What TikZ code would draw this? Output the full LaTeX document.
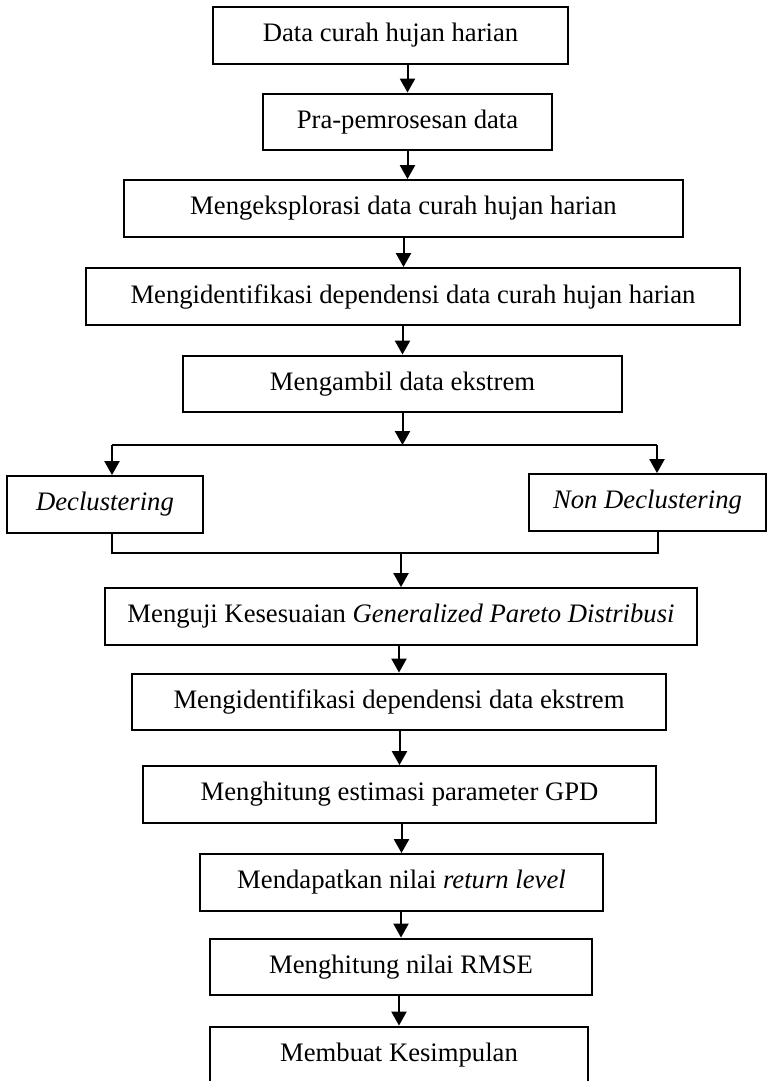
\documentclass[tikz,border=0pt]{standalone}
\usepackage{fontspec}
\setmainfont{Liberation Serif}
\usetikzlibrary{arrows.meta}
\begin{document}
\begin{tikzpicture}[x=0.45pt, y=-0.45pt,
  box/.style={draw, line width=0.9pt, minimum width=#1, minimum height=25.6pt, inner sep=0pt, font=\fontsize{12pt}{14pt}\selectfont},
  arr/.style={line width=0.9pt, -{Triangle[length=6.3pt, width=6.8pt]}},
  link/.style={line width=0.9pt}]
\useasboundingbox (0,0) rectangle (769,1081);
\node[box=159.75pt] (data) at (390.5,35.5) {Data curah hujan harian};
\node[box=130.05pt] (pra) at (407.5,122) {Pra-pemrosesan data};
\node[box=251.55pt] (eksplorasi) at (403.5,208.5) {Mengeksplorasi data curah hujan harian};
\node[box=294.3pt] (depharian) at (413,296.5) {Mengidentifikasi dependensi data curah hujan harian};
\node[box=197.55pt] (ekstrem) at (402.5,384) {Mengambil data ekstrem};
\node[box=88.2pt] (declus) at (105,504.5) {\textit{Declustering}};
\node[box=106.65pt] (nondeclus) at (647.5,502.5) {\textit{Non Declustering}};
\node[box=266.4pt] (uji) at (401,616.5) {Menguji Kesesuaian \textit{Generalized Pareto Distribusi}};
\node[box=240.3pt] (depekstrem) at (399,702) {Mengidentifikasi dependensi data ekstrem};
\node[box=230.85pt] (estimasi) at (399.5,794.5) {Menghitung estimasi parameter GPD};
\node[box=181.35pt] (retlevel) at (401.5,882.5) {Mendapatkan nilai \textit{return level}};
\node[box=171.9pt] (rmse) at (401,967) {Menghitung nilai RMSE};
\node[box=170.1pt] (simpul) at (399,1055) {Membuat Kesimpulan};
\coordinate (splitL) at (112,445);
\coordinate (splitR) at (657,445);
\coordinate (joinL) at (112,553);
\coordinate (joinR) at (658,553);
\draw[arr] (data.south -| pra.north) -- (pra.north);
\draw[arr] (pra.south) -- (pra.south |- eksplorasi.north);
\draw[arr] (eksplorasi.south) -- (eksplorasi.south |- depharian.north);
\draw[arr] (depharian.south -| ekstrem.north) -- (ekstrem.north);
\draw[arr] (ekstrem.south) -- (ekstrem.south |- splitL);
\draw[link] (splitL) -- (splitR);
\draw[arr] (splitL) -- (splitL |- declus.north);
\draw[arr] (splitR) -- (splitR |- nondeclus.north);
\draw[link] (joinL |- declus.south) -- (joinL) -- (joinR) -- (joinR |- nondeclus.south);
\draw[arr] (uji.north |- joinL) -- (uji.north);
\draw[arr] (uji.south -| depekstrem.north) -- (depekstrem.north);
\draw[arr] (depekstrem.south -| estimasi.north) -- (estimasi.north);
\draw[arr] (estimasi.south -| retlevel.north) -- (retlevel.north);
\draw[arr] (retlevel.south -| rmse.north) -- (rmse.north);
\draw[arr] (rmse.south -| simpul.north) -- (simpul.north);
\end{tikzpicture}
\end{document}
